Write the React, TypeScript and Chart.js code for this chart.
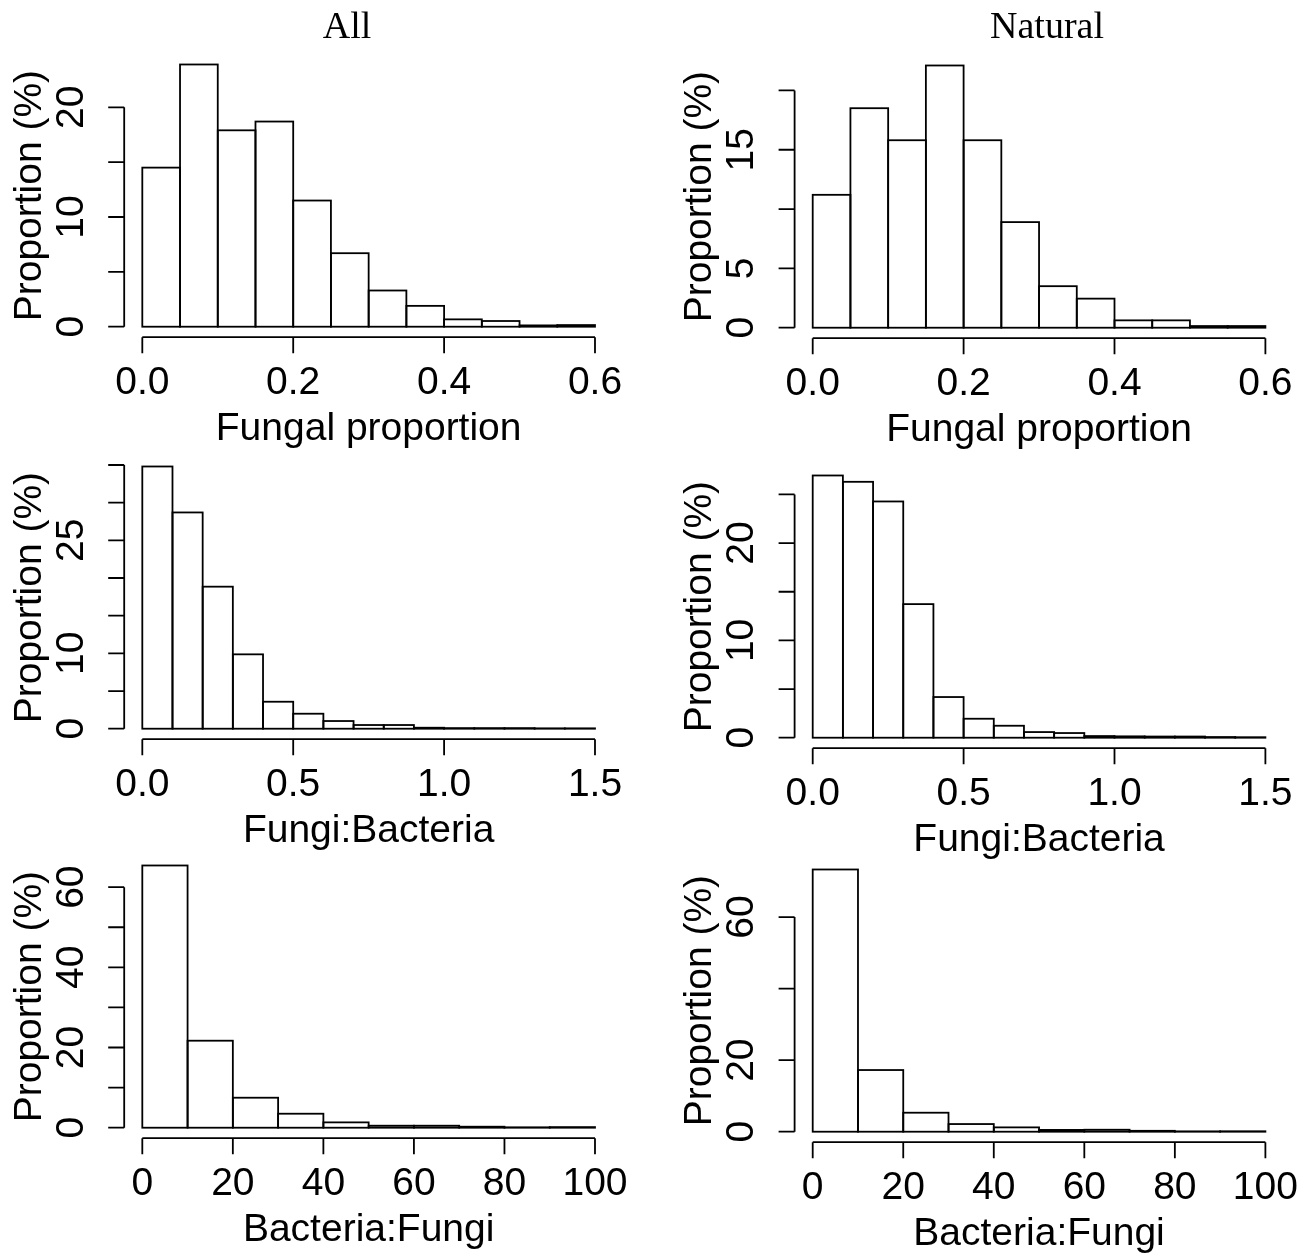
import React, { useEffect, useRef } from "react";
import { Chart, registerables } from "chart.js";

Chart.register(...registerables);

// ---------- data ----------
const fungalBreaks = [0, 0.05, 0.1, 0.15, 0.2, 0.25, 0.3, 0.35, 0.4, 0.45, 0.5, 0.55, 0.6];
const fbBreaks = [0, 0.1, 0.2, 0.3, 0.4, 0.5, 0.6, 0.7, 0.8, 0.9, 1.0, 1.1, 1.2, 1.3, 1.4, 1.5];
const bfBreaks = [0, 10, 20, 30, 40, 50, 60, 70, 80, 90, 100];

const allFungalProportion = [14.5, 23.9, 17.9, 18.7, 11.5, 6.7, 3.3, 1.9, 0.67, 0.52, 0.12, 0.15];
const naturalFungalProportion = [11.2, 18.5, 15.8, 22.1, 15.8, 8.9, 3.5, 2.45, 0.62, 0.62, 0.14, 0.14];
const allFungiBacteria = [34.8, 28.7, 18.85, 9.87, 3.58, 1.99, 1.02, 0.49, 0.49, 0.13, 0.08, 0.08, 0.08, 0.05, 0.05];
const naturalFungiBacteria = [26.95, 26.3, 24.28, 13.73, 4.18, 1.95, 1.23, 0.58, 0.48, 0.17, 0.14, 0.12, 0.12, 0.07, 0.05];
const allBacteriaFungi = [65.4, 21.7, 7.48, 3.49, 1.33, 0.5, 0.5, 0.25, 0.1, 0.15];
const naturalBacteriaFungi = [73.3, 17.24, 5.31, 2.14, 1.21, 0.5, 0.55, 0.25, 0.1, 0.12];

const fungalXTicks = [0, 0.2, 0.4, 0.6];
const fungalXTickLabels = ["0.0", "0.2", "0.4", "0.6"];
const fbXTicks = [0, 0.5, 1.0, 1.5];
const fbXTickLabels = ["0.0", "0.5", "1.0", "1.5"];
const bfXTicks = [0, 20, 40, 60, 80, 100];
const bfXTickLabels = ["0", "20", "40", "60", "80", "100"];

const yTicksAllFungal = [0, 5, 10, 15, 20];
const yLabelsAllFungal = [0, 10, 20];
const yTicksNatFungal = [0, 5, 10, 15, 20];
const yLabelsNatFungal = [0, 5, 15];
const yTicksAllFB = [0, 5, 10, 15, 20, 25, 30, 35];
const yLabelsAllFB = [0, 10, 25];
const yTicksNatFB = [0, 5, 10, 15, 20, 25];
const yLabelsNatFB = [0, 10, 20];
const yTicksAllBF = [0, 10, 20, 30, 40, 50, 60];
const yLabelsAllBF = [0, 20, 40, 60];
const yTicksNatBF = [0, 20, 40, 60];
const yLabelsNatBF = [0, 20, 60];

const columnTitles = ["All", "Natural"];
const xTitles = ["Fungal proportion", "Fungi:Bacteria", "Bacteria:Fungi"];
const yTitle = "Proportion (%)";

// ---------- layout / style ----------
const SANS = '"Liberation Sans", Arial, Helvetica, sans-serif';
const SERIF = '"Liberation Serif", "Times New Roman", serif';
const PLOT_W = 488.9;
const PLOT_H = 283.2;
const CANVAS_W = 657;
const CANVAS_H = 470;
const CANVAS_TOP_OFFSET = 60;
const TICK = 16;
const LINE_W = 1.8;

type Panel = {
  breaks: number[];
  values: number[];
  xTicks: number[];
  xTickLabels: string[];
  yTicks: number[];
  yLabels: number[];
  xTitle: string;
  title?: string;
  titleCenterX?: number;
  titleCenterY?: number;
  plotLeft: number;
  plotTop: number;
  canvasLeft: number;
};

const panels: Panel[] = [
  { breaks: fungalBreaks, values: allFungalProportion, xTicks: fungalXTicks, xTickLabels: fungalXTickLabels, yTicks: yTicksAllFungal, yLabels: yLabelsAllFungal, xTitle: xTitles[0], title: columnTitles[0], titleCenterX: 347, titleCenterY: 28, plotLeft: 124.2, plotTop: 54.3, canvasLeft: 0 },
  { breaks: fungalBreaks, values: naturalFungalProportion, xTicks: fungalXTicks, xTickLabels: fungalXTickLabels, yTicks: yTicksNatFungal, yLabels: yLabelsNatFungal, xTitle: xTitles[0], title: columnTitles[1], titleCenterX: 1047, titleCenterY: 28, plotLeft: 794.6, plotTop: 54.5, canvasLeft: 658 },
  { breaks: fbBreaks, values: allFungiBacteria, xTicks: fbXTicks, xTickLabels: fbXTickLabels, yTicks: yTicksAllFB, yLabels: yLabelsAllFB, xTitle: xTitles[1], plotLeft: 124.2, plotTop: 456.2, canvasLeft: 0 },
  { breaks: fbBreaks, values: naturalFungiBacteria, xTicks: fbXTicks, xTickLabels: fbXTickLabels, yTicks: yTicksNatFB, yLabels: yLabelsNatFB, xTitle: xTitles[1], plotLeft: 794.6, plotTop: 464.6, canvasLeft: 658 },
  { breaks: bfBreaks, values: allBacteriaFungi, xTicks: bfXTicks, xTickLabels: bfXTickLabels, yTicks: yTicksAllBF, yLabels: yLabelsAllBF, xTitle: xTitles[2], plotLeft: 124.2, plotTop: 855, canvasLeft: 0 },
  { breaks: bfBreaks, values: naturalBacteriaFungi, xTicks: bfXTicks, xTickLabels: bfXTickLabels, yTicks: yTicksNatBF, yLabels: yLabelsNatBF, xTitle: xTitles[2], plotLeft: 794.6, plotTop: 859.1, canvasLeft: 658 },
];

function makeAxesPlugin(p: Panel, canvasTop: number) {
  return {
    id: "rAxes",
    afterDatasetsDraw(chart: any) {
      // R-style outlines centred on each bar edge, using the bar elements' own geometry
      const ctx = chart.ctx as CanvasRenderingContext2D;
      const meta = chart.getDatasetMeta(0);
      ctx.save();
      ctx.strokeStyle = "#000";
      ctx.lineWidth = LINE_W;
      ctx.lineJoin = "miter";
      meta.data.forEach((el: any) => {
        const { x, y, base, width } = el.getProps(["x", "y", "base", "width"], true);
        ctx.strokeRect(x - width / 2, Math.min(y, base), width, Math.abs(base - y));
      });
      ctx.restore();
    },
    afterDraw(chart: any) {
      const ctx = chart.ctx as CanvasRenderingContext2D;
      const xs = chart.scales.x;
      const ys = chart.scales.y;
      const { left, right, top, bottom } = chart.chartArea;
      ctx.save();
      ctx.strokeStyle = "#000";
      ctx.fillStyle = "#000";
      ctx.lineWidth = LINE_W;
      ctx.lineCap = "butt";
      ctx.beginPath();
      const xa = xs.getPixelForValue(p.xTicks[0]);
      const xb = xs.getPixelForValue(p.xTicks[p.xTicks.length - 1]);
      ctx.moveTo(xa, bottom);
      ctx.lineTo(xb, bottom);
      p.xTicks.forEach((v) => {
        const x = xs.getPixelForValue(v);
        ctx.moveTo(x, bottom);
        ctx.lineTo(x, bottom + TICK);
      });
      const ya = ys.getPixelForValue(p.yTicks[0]);
      const yb = ys.getPixelForValue(p.yTicks[p.yTicks.length - 1]);
      ctx.moveTo(left, ya);
      ctx.lineTo(left, yb);
      p.yTicks.forEach((v) => {
        const y = ys.getPixelForValue(v);
        ctx.moveTo(left, y);
        ctx.lineTo(left - TICK, y);
      });
      ctx.stroke();

      ctx.font = `39px ${SANS}`;
      ctx.textAlign = "center";
      ctx.textBaseline = "middle";
      p.xTicks.forEach((v, i) => {
        ctx.fillText(p.xTickLabels[i], xs.getPixelForValue(v), bottom + 46);
      });
      p.yLabels.forEach((v) => {
        const y = ys.getPixelForValue(v);
        ctx.save();
        ctx.translate(left - 52, y);
        ctx.rotate(-Math.PI / 2);
        ctx.fillText(String(v), 0, 0);
        ctx.restore();
      });
      ctx.fillText(p.xTitle, (left + right) / 2, bottom + 92);
      ctx.save();
      ctx.translate(left - 94, (top + bottom) / 2);
      ctx.rotate(-Math.PI / 2);
      ctx.fillText(yTitle, 0, 0);
      ctx.restore();

      if (p.title && p.titleCenterX !== undefined && p.titleCenterY !== undefined) {
        ctx.font = `38px ${SERIF}`;
        ctx.fillText(p.title, p.titleCenterX - p.canvasLeft, p.titleCenterY - canvasTop);
      }
      ctx.restore();
    },
  };
}

function HistPanel({ p }: { p: Panel }) {
  const ref = useRef<HTMLCanvasElement | null>(null);
  const canvasTop = p.plotTop - CANVAS_TOP_OFFSET;
  useEffect(() => {
    if (!ref.current) return;
    const lo = p.breaks[0];
    const hi = p.breaks[p.breaks.length - 1];
    const xr = hi - lo;
    const ymax = Math.max(...p.values);
    const points = p.values.map((v, i) => ({ x: (p.breaks[i] + p.breaks[i + 1]) / 2, y: v }));
    const padLeft = p.plotLeft - p.canvasLeft;
    const padRight = CANVAS_W - padLeft - PLOT_W;
    const padTop = CANVAS_TOP_OFFSET;
    const padBottom = CANVAS_H - padTop - PLOT_H;
    const chart = new Chart(ref.current, {
      type: "bar",
      data: {
        datasets: [
          {
            data: points as any,
            backgroundColor: "#ffffff",
            borderWidth: 0,
            inflateAmount: 0,
            barPercentage: 1,
            categoryPercentage: 1,
            grouped: false,
          } as any,
        ],
      },
      options: {
        responsive: false,
        animation: false,
        devicePixelRatio: 1,
        events: [],
        layout: { padding: { left: padLeft, right: padRight, top: padTop, bottom: padBottom } },
        plugins: { legend: { display: false }, tooltip: { enabled: false }, title: { display: false } },
        scales: {
          x: { type: "linear", offset: false, min: lo - 0.04 * xr, max: hi + 0.04 * xr, display: false },
          y: { type: "linear", min: -0.04 * ymax, max: 1.04 * ymax, display: false },
        },
      },
      plugins: [makeAxesPlugin(p, canvasTop)],
    });
    return () => chart.destroy();
  }, []);
  return (
    <canvas
      ref={ref}
      width={CANVAS_W}
      height={CANVAS_H}
      style={{ position: "absolute", left: p.canvasLeft, top: canvasTop, width: CANVAS_W, height: CANVAS_H }}
    />
  );
}

export default function App() {
  return (
    <div style={{ position: "absolute", left: 0, top: 0, width: 1315, height: 1259, background: "#ffffff", overflow: "hidden" }}>
      {panels.map((p, i) => (
        <HistPanel key={i} p={p} />
      ))}
    </div>
  );
}
